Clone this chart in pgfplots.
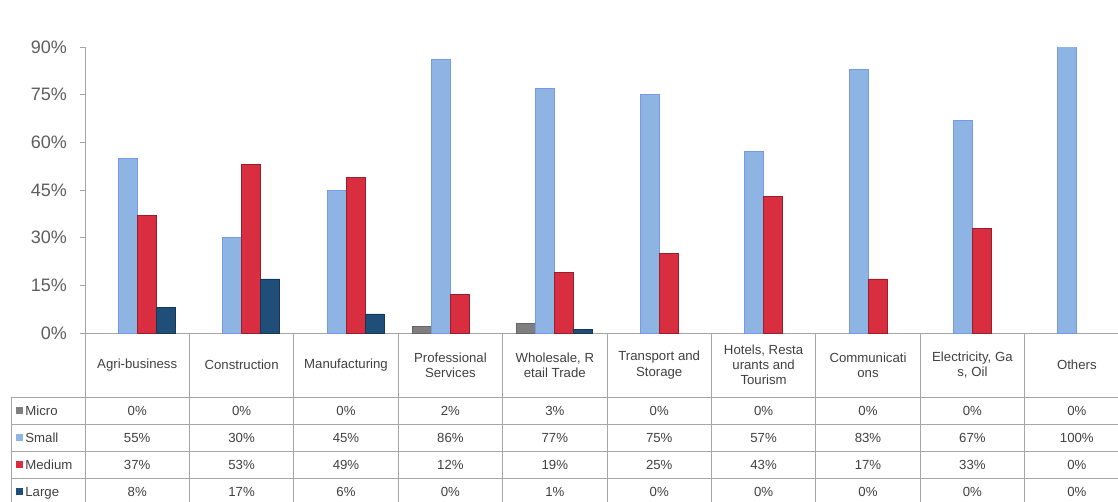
\documentclass[border=0pt]{standalone}
\usepackage{pgfplots}
\pgfplotsset{compat=1.18}
\usepackage{fontspec}
\setmainfont{Liberation Sans}

\definecolor{microc}{HTML}{7F7F7F}
\definecolor{smallc}{HTML}{8DB4E3}
\definecolor{mediumc}{HTML}{D92D40}
\definecolor{largec}{HTML}{1F4E79}
\definecolor{linegray}{HTML}{A6A6A6}
\definecolor{txt}{HTML}{404040}

% values per sector, in %
\pgfplotstableread{
x micro small medium large
0 0 55 37 8
1 0 30 53 17
2 0 45 49 6
3 2 86 12 0
4 3 77 19 1
5 0 75 25 0
6 0 57 43 0
7 0 83 17 0
8 0 67 33 0
9 0 100 0 0
}\sectors

\begin{document}
\begin{tikzpicture}
\path[use as bounding box] (0,0) rectangle (559pt,-251pt);
\begin{axis}[
	at={(42.5pt,-166.5pt)}, anchor=south west,
	scale only axis,
	width=522pt, height=143pt,
	xmin=-0.5, xmax=9.5,
	ymin=0, ymax=90,
	ybar=0pt, bar width=9.5pt,
	axis x line*=bottom,
	axis y line*=left,
	axis line style={draw=linegray},
	xtick=\empty,
	ytick={0,15,...,90},
	yticklabel={\pgfmathprintnumber{\tick}\%},
	tick align=outside,
	major tick length=2.5pt,
	ytick style={draw=linegray},
	/pgf/number format/assume math mode=true,
	tick label style={font=\fontsize{9}{10}\selectfont, text=txt!85!white},
	yticklabel style={xshift=-3pt},
	% empty bars are not drawn
	y filter/.expression={y==0 ? nan : y},
	unbounded coords=discard,
	]
	\addplot[fill=microc, draw=microc!80!black] table[x=x,y=micro] {\sectors};
	\addplot[fill=smallc, draw=smallc!85!blue] table[x=x,y=small] {\sectors};
	\addplot[fill=mediumc, draw=mediumc!70!black] table[x=x,y=medium] {\sectors};
	\addplot[fill=largec, draw=largec!70!black] table[x=x,y=large] {\sectors};
\end{axis}

% data table under the chart (pixel units of the reference)
\begin{scope}[x=0.5pt, y=-0.5pt, font=\fontsize{6.6}{7.6}\selectfont, text=txt]
	\foreach \k in {0,...,10}
		\draw[linegray, line width=0.4pt] ({85+104.4*\k},333) -- ({85+104.4*\k},505);
	\draw[linegray, line width=0.4pt] (11,397) -- (11,505);
	\foreach \y in {397,424,451,478}
		\draw[linegray, line width=0.4pt] (11,\y) -- (1129,\y);
	\foreach \t [count=\i from 0] in {{Agri-business},{Construction},{Manufacturing},{Professional\\Services},{Wholesale, R\\etail Trade},{Transport and\\Storage},{Hotels, Resta\\urants and\\Tourism},{Communicati\\ons},{Electricity, Ga\\s, Oil},{Others}}
		\node[align=center] at ({137.2+104.4*\i},365) {\t};
	\foreach \c/\n [count=\r from 0] in {microc/Micro,smallc/Small,mediumc/Medium,largec/Large}{
		\fill[\c] (16,{406.5+27*\r}) rectangle (23,{413.5+27*\r});
		\node[anchor=base west, inner sep=0pt] at (25,{415+27*\r}) {\n};
	}
	\foreach \v [count=\i from 0] in {0,0,0,2,3,0,0,0,0,0}
		\node at ({137.2+104.4*\i},410.5) {\v\%};
	\foreach \v [count=\i from 0] in {55,30,45,86,77,75,57,83,67,100}
		\node at ({137.2+104.4*\i},437.5) {\v\%};
	\foreach \v [count=\i from 0] in {37,53,49,12,19,25,43,17,33,0}
		\node at ({137.2+104.4*\i},464.5) {\v\%};
	\foreach \v [count=\i from 0] in {8,17,6,0,1,0,0,0,0,0}
		\node at ({137.2+104.4*\i},491.5) {\v\%};
\end{scope}
\end{tikzpicture}
\end{document}
